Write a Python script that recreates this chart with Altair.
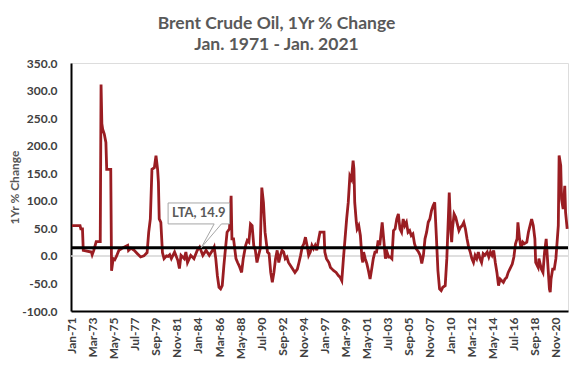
import json
import altair as alt
import pandas as pd

# ---- data (month offset from Jan-1971, 1-yr % change) ----
months = [0, 10, 11, 13, 14, 24, 25, 27, 30, 35, 36, 37, 38, 40, 42, 43, 48, 49, 51, 53, 55, 58, 61, 65, 69, 70,
          73, 77, 81, 85, 89, 93, 95, 97, 99, 102, 104, 106, 107, 108, 110, 112, 114, 117, 119,
          121, 123, 127, 131, 133, 135, 139, 141, 143, 147, 151, 155, 158, 162, 166, 170, 174, 176, 178, 180,
          182, 184, 186, 188, 190, 192, 195, 197, 198, 200, 203, 205, 207, 210, 212, 215, 217, 219, 221, 223,
          225, 227, 229, 231, 233, 235, 237, 239, 241,
          242, 244, 246, 248, 250, 252, 254, 256, 258, 260, 262, 264, 266, 268, 272, 276, 279, 281, 283, 285,
          287, 289, 291, 293, 295, 297, 299, 301, 303, 305, 307, 309, 312, 313, 315, 318, 320, 322, 324, 327,
          330, 332, 334, 336, 338, 340, 342, 344, 346, 348, 349, 350, 352, 353, 355, 357, 359, 360,
          361, 363, 365, 367, 369, 371, 373, 375, 377, 379, 381, 384, 386, 388, 390, 392, 394, 396, 398, 400,
          402, 404, 406, 408, 410, 412, 414, 416, 418, 420, 422, 424, 426, 429, 431, 433, 435, 437, 439, 441,
          443, 445, 447, 449, 451, 453, 455, 457, 459, 462, 464, 466, 467, 469, 470, 471, 473, 475, 477, 479,
          481, 483, 485, 487, 489, 491, 493, 495, 497, 499, 501, 503, 505, 507, 509, 511, 514, 516, 518, 520,
          522, 524, 526, 528, 530, 532, 534, 536, 538, 540, 542, 545, 547, 549, 551, 552, 554, 556, 558, 560,
          563, 565, 567, 569, 571, 573, 574, 577, 578, 581, 583, 585, 587, 589, 591, 592, 593, 595, 597, 599,
          602, 603, 605, 606, 608, 610, 611, 613]
pct = [55, 55, 49, 49, 10, 7, 2, 10, 26, 26, 311, 240, 230, 221, 206, 157, 157, -27, -5, -7, -1, 10, 13, 16, 19, 10,
       14, 10, 4, -2, 0, 6, 43, 67, 157, 160, 182, 157, 134, 67, 61, 6, -5, 0, -1,
       2, -5, 7, -8, -23, 1, -5, 7, -12, 1, -5, 10, 16, 1, 10, 1, 10, 16, -5, -36,
       -57, -60, -54, -18, 13, 43, 49, 109, 31, 31, -5, -12, -18, -30, -5, 19, 28, 25, 58, 55,
       19, 10, -12, 1, 13, 124, 97, 43, 19,
       7, 4, -30, -48, -30, -5, 10, -12, 1, 10, 7, -5, -2, -12, -21, -30, -24, -12, 1, 16,
       22, 34, 19, 1, 7, 19, 13, 19, 10, 28, 43, 43, 43, 7, -5, -12, -21, -24, -27, -30,
       -36, -39, -45, -5, 31, 67, 97, 145, 139, 173, 158, 97, 61, 49, 55, 37, -5, -12,
       7, -5, -14, -27, -42, -24, -5, 7, 7, 28, 19, 61, 28, -5, 7, -2, -2, -5, 46, 49,
       67, 76, 49, 43, 67, 55, 61, 43, 46, 37, 40, 22, 13, 7, 1, -14, 1, 31, 43, 61,
       67, 82, 91, 97, 37, -27, -60, -63, -57, -54, -5, 73, 115, 43, 25, 49, 76, 70, 58, 46,
       52, 55, 61, 49, 31, 16, 7, -5, -12, 1, -5, 7, -5, -12, 4, 1, 7, -2, 7, 1,
       10, -12, -30, -54, -42, -45, -48, -42, -39, -30, -24, -15, -2, 22, 31, 61, 31, 13, 25, 22,
       25, 43, 55, 67, 55, 31, -12, -21, -5, -24, -30, 7, 31, -15, -60, -66, -42, -24, -24, -5,
       55, 182, 164, 103, 85, 127, 79, 49]

tick_months = [0, 26, 52, 78, 104, 130, 156, 182, 208, 234, 260, 286, 312, 338, 364, 390, 416, 442, 468,
               494, 520, 546, 572, 598]
tick_labels = ["Jan-71", "Mar-73", "May-75", "Jul-77", "Sep-79", "Nov-81", "Jan-84", "Mar-86", "May-88",
               "Jul-90", "Sep-92", "Nov-94", "Jan-97", "Mar-99", "May-01", "Jul-03", "Sep-05", "Nov-07",
               "Jan-10", "Mar-12", "May-14", "Jul-16", "Sep-18", "Nov-20"]
y_ticks = [-100, -50, 0, 50, 100, 150, 200, 250, 300, 350]

lta_value = 14.9
lta_label = "LTA, 14.9"
# callout box (month range, value range) and pointer target
box_m = [119, 195]
box_v = [58, 96]
pointer_m = 160
pointer_base = [176, 185]

FONT = "Lato"
RED = "#9a1d22"

df = pd.DataFrame({"m": months, "v": pct})

x_scale = alt.Scale(domain=[-1.2, 614], nice=False, zero=False)
y_scale = alt.Scale(domain=[-100, 350], nice=False, zero=False)

label_expr_x = f"{json.dumps(tick_labels)}[indexof({json.dumps(tick_months)}, datum.value)]"
label_expr_y = "(datum.value < 0 ? '-' : '') + format(abs(datum.value), '.1f')"

x_enc = alt.X("m:Q", scale=x_scale, axis=alt.Axis(
    values=tick_months, tickCount=len(tick_months), labelExpr=label_expr_x, labelAngle=-90,
    labelAlign="right", labelBaseline="middle", labelPadding=6, ticks=False, grid=False, title=None,
    domainColor="black", domainWidth=2, labelFont=FONT, labelFontSize=12,
    labelColor="#404040", labelFontWeight="bold", labelOverlap=False))
y_enc = alt.Y("v:Q", scale=y_scale, axis=alt.Axis(
    values=y_ticks, tickCount=len(y_ticks), labelExpr=label_expr_y, ticks=False, grid=False,
    title="1Yr % Change", labelOverlap=False,
    domainColor="black", domainWidth=2, labelFont=FONT, labelFontSize=12,
    labelColor="#404040", labelFontWeight="bold", labelPadding=14,
    titleFont=FONT, titleFontSize=12, titleColor="#595959", titleFontWeight="bold",
    titleX=-57, titleY=124, titleAngle=-90, titleBaseline="middle", titleAlign="center"))

zero_rule = alt.Chart(pd.DataFrame({"v": [0]})).mark_rule(color="#d4d4d4", strokeWidth=1.5).encode(
    y=alt.Y("v:Q", scale=y_scale))

line = alt.Chart(df).mark_line(color=RED, strokeWidth=2.8, strokeJoin="miter").encode(x=x_enc, y=y_enc)

lta_rule = alt.Chart(pd.DataFrame({"v": [lta_value]})).mark_rule(color="black", strokeWidth=3).encode(
    y=alt.Y("v:Q", scale=y_scale))

box_df = pd.DataFrame({"m1": [box_m[0]], "m2": [box_m[1]], "v1": [box_v[0]], "v2": [box_v[1]]})
box = alt.Chart(box_df).mark_rect(fill="white", stroke="#a6a6a6", strokeWidth=1).encode(
    x=alt.X("m1:Q", scale=x_scale), x2="m2", y=alt.Y("v1:Q", scale=y_scale), y2="v2")

ptr_df = pd.DataFrame({"m1": pointer_base, "v1": [box_v[0]] * 2,
                       "m2": [pointer_m] * 2, "v2": [lta_value] * 2})
gap = alt.Chart(pd.DataFrame({"m1": [pointer_base[0]], "m2": [pointer_base[1]], "v": [box_v[0]]})).mark_rule(
    color="white", strokeWidth=2).encode(
    x=alt.X("m1:Q", scale=x_scale), x2="m2", y=alt.Y("v:Q", scale=y_scale))
ptr = alt.Chart(ptr_df).mark_rule(color="#a6a6a6", strokeWidth=1).encode(
    x=alt.X("m1:Q", scale=x_scale), x2="m2", y=alt.Y("v1:Q", scale=y_scale), y2="v2")

txt = alt.Chart(pd.DataFrame({"m": [(box_m[0] + box_m[1]) / 2], "v": [(box_v[0] + box_v[1]) / 2],
                              "t": [lta_label]})).mark_text(
    font=FONT, fontSize=13, color="#595959", fontWeight="bold", baseline="middle", align="center").encode(
    x=alt.X("m:Q", scale=x_scale), y=alt.Y("v:Q", scale=y_scale), text="t:N")

chart = alt.layer(zero_rule, line, lta_rule, box, gap, ptr, txt).properties(
    width=497, height=248,
    padding={"left": 63, "top": 55, "right": 4, "bottom": 50},
    autosize=alt.AutoSizeParams(type="none"),
    title=alt.TitleParams(
        text=["Brent Crude Oil, 1Yr %  Change", "Jan. 1971 - Jan. 2021"],
        font=FONT, fontSize=17.5, fontWeight="bold", color="#595959", lineHeight=21,
        anchor="middle", frame="group", dx=-43, offset=4),
).configure_view(stroke="#404040", strokeWidth=1.5).configure(background="white")

chart.save("out.html", embed_options={"renderer": "svg", "actions": False})
